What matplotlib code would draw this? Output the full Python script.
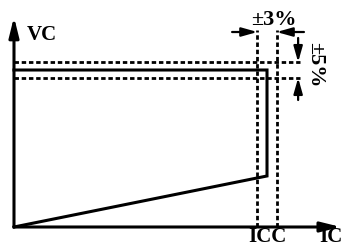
import matplotlib
matplotlib.use("Agg")
from matplotlib import pyplot as plt

# nominal operating point (normalised) and tolerances
icc = 1.0
vc = 1.0
i_tol = 0.038   # drawn width of the ±3% band
v_tol = 0.05    # ±5%

# V-I characteristic: slope up to ICC, then vertical to VC, then flat
curve_i = [0.0, 1.0, 1.0, 0.0]
curve_v = [0.0, 0.325, 1.0, 1.0]

x_max = 1.292
y_max = 1.338

plt.rcParams["font.family"] = ["Liberation Serif", "DejaVu Serif"]
plt.rcParams["font.weight"] = "bold"

fig = plt.figure(figsize=(3.44, 2.47), dpi=100)
ax = fig.add_axes([0, 0, 1, 1])
ax.set_xlim(-0.0553, 1.3043)
ax.set_ylim(-0.1274, 1.4459)
ax.axis("off")

# axes with arrows
head = dict(arrowstyle="-|>,head_length=0.85,head_width=0.21", color="black",
            lw=2.2, shrinkA=0, shrinkB=0, mutation_scale=14)
ax.annotate("", xy=(0, y_max), xytext=(0, 0), arrowprops=head)
ax.annotate("", xy=(x_max, 0), xytext=(0, 0), arrowprops=head)

# characteristic
ax.plot(curve_i, curve_v, color="black", lw=2.2, solid_joinstyle="miter")

# tolerance bands
dash = (0, (1.6, 1.0))
for v in [vc * (1 + v_tol), vc * (1 - v_tol)]:
    ax.plot([0, 1.13], [v, v], color="black", lw=2.0, linestyle=dash)
for i in [icc * (1 - i_tol), icc * (1 + i_tol)]:
    ax.plot([i, i], [0, 1.255], color="black", lw=2.0, linestyle=dash)

# dimension arrows
small = dict(arrowstyle="-|>,head_length=0.78,head_width=0.22", color="black",
             lw=1.6, shrinkA=0, shrinkB=0, mutation_scale=12)
ax.annotate("", xy=(icc * (1 - i_tol), 1.242), xytext=(0.862, 1.242), arrowprops=small)
ax.annotate("", xy=(icc * (1 + i_tol), 1.242), xytext=(1.146, 1.242), arrowprops=small)
ax.annotate("", xy=(1.123, vc * (1 + v_tol)), xytext=(1.123, 1.204), arrowprops=small)
ax.annotate("", xy=(1.123, vc * (1 - v_tol)), xytext=(1.123, 0.809), arrowprops=small)

# labels
fs = 15
ax.text(0.051, 1.223, "VC", fontsize=fs, fontweight="bold", ha="left", va="center")
ax.text(icc, -0.065, "ICC", fontsize=fs, fontweight="bold", ha="center", va="center")
ax.text(1.205, -0.065, "IC", fontsize=fs, fontweight="bold", ha="left", va="center")
ax.text(1.028, 1.318, "±3%", fontsize=16, fontweight="bold", ha="center", va="center")
ax.text(1.19, 1.032, "±5%", fontsize=16, fontweight="bold", ha="center", va="center",
        rotation=-90)

fig.savefig("out.png", dpi=100)
